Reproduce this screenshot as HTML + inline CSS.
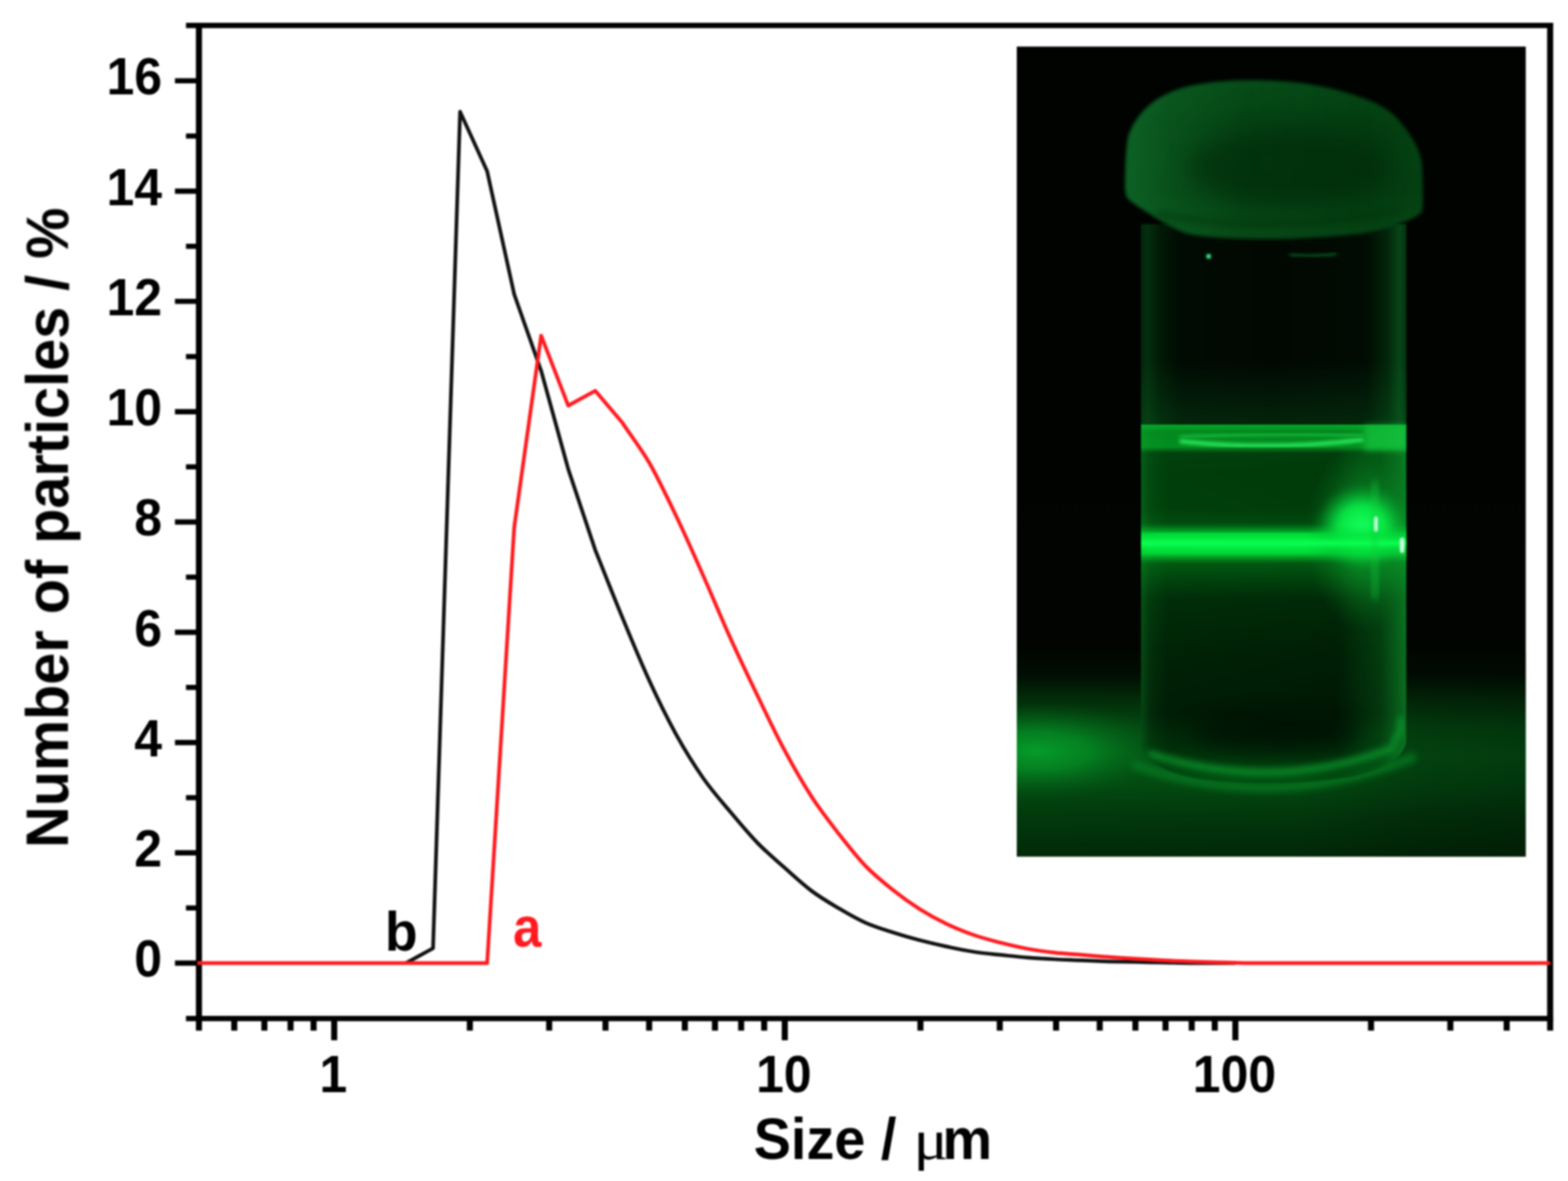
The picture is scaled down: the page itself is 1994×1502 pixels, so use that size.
<!DOCTYPE html>
<html lang="en">
<head>
<meta charset="utf-8">
<title>Particle size distribution</title>
<style>
html,body{margin:0;padding:0;background:#fff;}
body{width:1994px;height:1502px;overflow:hidden;}
svg{display:block;}
text{font-family:"Liberation Sans",sans-serif;font-weight:bold;}
.tk{font-size:63.5px;fill:#000;}
.mu{font-family:"Liberation Serif","DejaVu Serif",serif;font-weight:normal;}
</style>
</head>
<body>
<svg width="1994" height="1502" viewBox="0 0 1994 1502">

<defs>
<filter id="soft" color-interpolation-filters="sRGB" filterUnits="userSpaceOnUse" x="0" y="0" width="1994" height="1502"><feGaussianBlur stdDeviation="1"/></filter>
<clipPath id="pc"><rect x="1293" y="59.2" width="647.3" height="1030.3"/></clipPath>
<clipPath id="vc"><path d="M1451 300V945Q1452 975 1520 990Q1620 1003 1720 988Q1787 972 1788.5 940V300Z"/></clipPath>
<filter id="b1" color-interpolation-filters="sRGB" x="-20%" y="-20%" width="140%" height="140%"><feGaussianBlur stdDeviation="1.2"/></filter>
<filter id="b2" color-interpolation-filters="sRGB" x="-20%" y="-20%" width="140%" height="140%"><feGaussianBlur stdDeviation="2.2"/></filter>
<filter id="b4" color-interpolation-filters="sRGB" x="-30%" y="-30%" width="160%" height="160%"><feGaussianBlur stdDeviation="4"/></filter>
<filter id="b8" color-interpolation-filters="sRGB" x="-50%" y="-50%" width="200%" height="200%"><feGaussianBlur stdDeviation="8"/></filter>
<filter id="b14" color-interpolation-filters="sRGB" x="-50%" y="-50%" width="200%" height="200%"><feGaussianBlur stdDeviation="14"/></filter>
<linearGradient id="bgV" gradientUnits="userSpaceOnUse" x1="0" y1="59.5" x2="0" y2="1089.5">
<stop offset="0" stop-color="#010301"/>
<stop offset="0.74" stop-color="#010401"/>
<stop offset="0.775" stop-color="#010e03"/>
<stop offset="0.805" stop-color="#022c09"/>
<stop offset="0.84" stop-color="#034a10"/>
<stop offset="0.875" stop-color="#045614"/>
<stop offset="0.91" stop-color="#034c11"/>
<stop offset="0.95" stop-color="#02390c"/>
<stop offset="1" stop-color="#012a08"/>
</linearGradient>
<linearGradient id="floorD" gradientUnits="userSpaceOnUse" x1="1293" y1="0" x2="1940" y2="0">
<stop offset="0" stop-color="#010401" stop-opacity="0"/>
<stop offset="0.55" stop-color="#010401" stop-opacity="0.05"/>
<stop offset="0.8" stop-color="#010401" stop-opacity="0.25"/>
<stop offset="1" stop-color="#010401" stop-opacity="0.32"/>
</linearGradient>
<radialGradient id="floorL" cx="0.5" cy="0.5" r="0.5">
<stop offset="0" stop-color="#069c2a" stop-opacity="1"/>
<stop offset="0.4" stop-color="#058a24" stop-opacity="0.8"/>
<stop offset="0.75" stop-color="#046c1c" stop-opacity="0.35"/>
<stop offset="1" stop-color="#045614" stop-opacity="0"/>
</radialGradient>
<linearGradient id="capG" gradientUnits="userSpaceOnUse" x1="0" y1="100" x2="0" y2="305">
<stop offset="0" stop-color="#064816"/>
<stop offset="0.3" stop-color="#043c10"/>
<stop offset="0.7" stop-color="#043a0f"/>
<stop offset="1" stop-color="#064414"/>
</linearGradient>
<linearGradient id="capH" gradientUnits="userSpaceOnUse" x1="1431" y1="0" x2="1809" y2="0">
<stop offset="0" stop-color="#168a3c" stop-opacity="0.5"/>
<stop offset="0.15" stop-color="#168a3c" stop-opacity="0.28"/>
<stop offset="0.4" stop-color="#168a3c" stop-opacity="0.08"/>
<stop offset="0.8" stop-color="#168a3c" stop-opacity="0"/>
<stop offset="1" stop-color="#168a3c" stop-opacity="0.08"/>
</linearGradient>
<linearGradient id="bodyH" gradientUnits="userSpaceOnUse" x1="1451" y1="0" x2="1788.5" y2="0">
<stop offset="0" stop-color="#03260b"/>
<stop offset="0.025" stop-color="#042e0f"/>
<stop offset="0.07" stop-color="#021a07"/>
<stop offset="0.15" stop-color="#010b03"/>
<stop offset="0.5" stop-color="#010802"/>
<stop offset="0.85" stop-color="#010c03"/>
<stop offset="0.93" stop-color="#03260b"/>
<stop offset="0.975" stop-color="#064618"/>
<stop offset="1" stop-color="#04300f"/>
</linearGradient>
<linearGradient id="bodyV" gradientUnits="userSpaceOnUse" x1="0" y1="460" x2="0" y2="541">
<stop offset="0" stop-color="#0a7a24" stop-opacity="0"/>
<stop offset="1" stop-color="#0a7a24" stop-opacity="0.25"/>
</linearGradient>
<linearGradient id="liqV" gradientUnits="userSpaceOnUse" x1="0" y1="540" x2="0" y2="1000">
<stop offset="0" stop-color="#05aa28"/>
<stop offset="0.02" stop-color="#03871e"/>
<stop offset="0.062" stop-color="#038c20"/>
<stop offset="0.078" stop-color="#003e0b"/>
<stop offset="0.13" stop-color="#003a0a"/>
<stop offset="0.235" stop-color="#003c0a"/>
<stop offset="0.27" stop-color="#00480d"/>
<stop offset="0.295" stop-color="#007819"/>
<stop offset="0.302" stop-color="#00dc37"/>
<stop offset="0.33" stop-color="#0aff50"/>
<stop offset="0.354" stop-color="#00dc37"/>
<stop offset="0.366" stop-color="#008c1e"/>
<stop offset="0.385" stop-color="#005510"/>
<stop offset="0.435" stop-color="#003e0b"/>
<stop offset="0.48" stop-color="#002a07"/>
<stop offset="0.63" stop-color="#001e05"/>
<stop offset="0.8" stop-color="#001804"/>
<stop offset="0.9" stop-color="#002d09"/>
<stop offset="1" stop-color="#005512"/>
</linearGradient>
<linearGradient id="liqH" gradientUnits="userSpaceOnUse" x1="1451" y1="0" x2="1788.5" y2="0">
<stop offset="0" stop-color="#10b034" stop-opacity="0.3"/>
<stop offset="0.035" stop-color="#10b034" stop-opacity="0.12"/>
<stop offset="0.1" stop-color="#10b034" stop-opacity="0.03"/>
<stop offset="0.74" stop-color="#10b034" stop-opacity="0"/>
<stop offset="0.9" stop-color="#10b034" stop-opacity="0.2"/>
<stop offset="1" stop-color="#14c03c" stop-opacity="0.5"/>
</linearGradient>
<linearGradient id="beamG" gradientUnits="userSpaceOnUse" x1="0" y1="668" x2="0" y2="714">
<stop offset="0" stop-color="#00dc37" stop-opacity="0"/>
<stop offset="0.27" stop-color="#00dc37" stop-opacity="0.55"/>
<stop offset="0.5" stop-color="#0aff50" stop-opacity="1"/>
<stop offset="0.7" stop-color="#00dc37" stop-opacity="0.55"/>
<stop offset="1" stop-color="#00dc37" stop-opacity="0"/>
</linearGradient>
<radialGradient id="blob" cx="0.5" cy="0.5" r="0.5">
<stop offset="0" stop-color="#14ff5c" stop-opacity="1"/>
<stop offset="0.5" stop-color="#08f048" stop-opacity="0.9"/>
<stop offset="1" stop-color="#04b030" stop-opacity="0"/>
</radialGradient>
<radialGradient id="halo" cx="0.5" cy="0.5" r="0.5">
<stop offset="0" stop-color="#10c038" stop-opacity="0.75"/>
<stop offset="0.6" stop-color="#0c9a2c" stop-opacity="0.35"/>
<stop offset="1" stop-color="#0a8024" stop-opacity="0"/>
</radialGradient>
</defs>
<g id="photoSoft" filter="url(#soft)">
<g id="photo" clip-path="url(#pc)">
<rect x="1293" y="59" width="648" height="1031" fill="url(#bgV)"/>
<rect x="1293" y="830" width="648" height="260" fill="url(#floorD)"/>
<ellipse cx="1318" cy="955" rx="175" ry="62" fill="url(#floorL)"/>
<g id="vial">
<rect x="1451" y="285" width="337.5" height="257" fill="url(#bodyH)"/>
<rect x="1451" y="460" width="337.5" height="81" fill="url(#bodyV)"/>
<path d="M1440 972Q1620 1036 1800 962" fill="none" stroke="#067a22" stroke-width="11" opacity="0.85" filter="url(#b4)"/>
<g clip-path="url(#vc)">
<rect x="1451" y="540" width="337.5" height="460" fill="url(#liqV)"/>
<rect x="1451" y="540" width="337.5" height="460" fill="url(#liqH)"/>
<ellipse cx="1735" cy="680" rx="75" ry="120" fill="url(#halo)"/>
<ellipse cx="1620" cy="932" rx="105" ry="24" fill="#010a03" opacity="0.6" filter="url(#b14)"/>
<path d="M1460 958Q1620 1010 1775 950" fill="none" stroke="#0c9a2e" stroke-width="7" filter="url(#b4)"/>
<path d="M1780 912Q1786 928 1770 946" fill="none" stroke="#10b83c" stroke-width="5" opacity="0.8" filter="url(#b4)"/>
<path d="M1500 561Q1616 574 1734 559" fill="none" stroke="#2cf060" stroke-width="5" filter="url(#b2)"/>
<path d="M1500 556Q1616 549 1734 554" fill="none" stroke="#1ccc48" stroke-width="3" filter="url(#b2)"/>
<rect x="1735" y="541" width="54" height="32" fill="#18d044" opacity="0.6" filter="url(#b4)"/>
<ellipse cx="1732" cy="670" rx="60" ry="54" fill="url(#blob)" filter="url(#b4)"/>
<rect x="1451" y="664" width="338" height="56" fill="url(#beamG)"/>
<rect x="1745" y="612" width="7" height="150" fill="#14d040" opacity="0.5" filter="url(#b4)"/>
<rect x="1747.5" y="657" width="4.5" height="19" rx="2" fill="#d8fff0" filter="url(#b1)"/>
<rect x="1780.5" y="684" width="5" height="19" rx="2" fill="#e8fff8" filter="url(#b1)"/>
</g>
</g>
<g id="cap">
<path id="capshape" d="M1587.6 102C1550 102 1510 108 1488.3 117.5C1462 129 1444 148 1435.3 172.7C1432 185 1431.5 215 1431 234.5C1431 244 1432 250 1436 254C1446 262 1462 272 1472.8 278.6C1490 289 1500 294 1510.3 297.3C1535 303 1590 304.5 1620.7 304C1660 303.5 1700 301 1731 297.3C1750 294.5 1765 290 1775 286.3C1790 281.5 1802 276 1808.2 269.8C1810 262 1809.5 245 1809.3 234.5C1809 220 1809 210 1807 201.4C1804 186 1790 165 1775 148.4C1762 137 1750 130 1731 124C1710 116 1680 108 1642.7 104.3C1625 102.5 1605 102 1587.6 102Z" fill="url(#capG)" filter="url(#b2)"/>
<path d="M1587.6 102C1550 102 1510 108 1488.3 117.5C1462 129 1444 148 1435.3 172.7C1432 185 1431.5 215 1431 234.5C1431 244 1432 250 1436 254C1446 262 1462 272 1472.8 278.6C1490 289 1500 294 1510.3 297.3C1535 303 1590 304.5 1620.7 304C1660 303.5 1700 301 1731 297.3C1750 294.5 1765 290 1775 286.3C1790 281.5 1802 276 1808.2 269.8C1810 262 1809.5 245 1809.3 234.5C1809 220 1809 210 1807 201.4C1804 186 1790 165 1775 148.4C1762 137 1750 130 1731 124C1710 116 1680 108 1642.7 104.3C1625 102.5 1605 102 1587.6 102Z" fill="url(#capH)" filter="url(#b2)"/>
<ellipse cx="1640" cy="212" rx="130" ry="46" fill="#012808" opacity="0.55" filter="url(#b14)"/>
<path d="M1470 272Q1620 300 1780 268" fill="none" stroke="#03300c" stroke-width="5" opacity="0.7" filter="url(#b4)"/>
<circle cx="1537" cy="326" r="3.2" fill="#30e080" filter="url(#b1)"/>
<path d="M1640 324Q1680 328 1700 322" fill="none" stroke="#0a6a24" stroke-width="3" filter="url(#b2)"/>
</g>
</g>
</g>

<g id="chart" filter="url(#soft)">
<path d="M236.5 32.4H1975.1M236.5 1295.4H1975.1M222.5 1224.9H253.0M236.5 1154.8H253.0M222.5 1084.6H253.0M236.5 1014.5H253.0M222.5 944.4H253.0M236.5 874.3H253.0M222.5 804.1H253.0M236.5 734.0H253.0M222.5 663.9H253.0M236.5 593.7H253.0M222.5 523.6H253.0M236.5 453.5H253.0M222.5 383.3H253.0M236.5 313.2H253.0M222.5 243.1H253.0M236.5 173.0H253.0M222.5 102.8H253.0" stroke="#000" stroke-width="6.6" fill="none"/>
<path d="M253.0 29.1V1310.8M1971.3 29.1V1310.8M297.9 1295.4V1310.8M336.2 1295.4V1310.8M369.5 1295.4V1310.8M398.8 1295.4V1310.8M425.0 1295.4V1323.0M597.5 1295.4V1310.8M698.4 1295.4V1310.8M770.0 1295.4V1310.8M825.5 1295.4V1310.8M870.9 1295.4V1310.8M909.2 1295.4V1310.8M942.5 1295.4V1310.8M971.8 1295.4V1310.8M998.0 1295.4V1323.0M1170.5 1295.4V1310.8M1271.4 1295.4V1310.8M1343.0 1295.4V1310.8M1398.5 1295.4V1310.8M1443.9 1295.4V1310.8M1482.2 1295.4V1310.8M1515.5 1295.4V1310.8M1544.8 1295.4V1310.8M1571.0 1295.4V1323.0M1743.5 1295.4V1310.8M1844.4 1295.4V1310.8M1916.0 1295.4V1310.8" stroke="#000" stroke-width="7.7" fill="none"/>
<text class="tk" transform="translate(206 1242.3) scale(1 1.040)" text-anchor="end">0</text>
<text class="tk" transform="translate(206 1102.0) scale(1 1.040)" text-anchor="end">2</text>
<text class="tk" transform="translate(206 961.8) scale(1 1.040)" text-anchor="end">4</text>
<text class="tk" transform="translate(206 821.5) scale(1 1.040)" text-anchor="end">6</text>
<text class="tk" transform="translate(206 681.3) scale(1 1.040)" text-anchor="end">8</text>
<text class="tk" transform="translate(206 541.0) scale(1 1.040)" text-anchor="end">10</text>
<text class="tk" transform="translate(206 400.7) scale(1 1.040)" text-anchor="end">12</text>
<text class="tk" transform="translate(206 260.5) scale(1 1.040)" text-anchor="end">14</text>
<text class="tk" transform="translate(206 120.2) scale(1 1.040)" text-anchor="end">16</text>
<text class="tk" transform="translate(423.8 1388.6) scale(1 1.040)" text-anchor="middle">1</text>
<text class="tk" transform="translate(996.8 1388.6) scale(1 1.040)" text-anchor="middle">10</text>
<text class="tk" transform="translate(1569.8 1388.6) scale(1 1.040)" text-anchor="middle">100</text>
<g font-size="71"><text transform="translate(958.5 1474) scale(1 1.035)">Size /</text><text class="mu" font-size="72" transform="translate(1161.5 1473.5) scale(1.15 1)">μ</text><text transform="translate(1198.6 1474) scale(1 1.035)">m</text></g>
<text transform="translate(86.6 1078.4) rotate(-90) scale(1 1.033)" font-size="73.3">Number of particles / %</text>
<path d="M516.3 1224.9L550.7 1206.0L585.1 142.1L619.5 217.8L653.9 374.2L688.2 471.7L722.6 596.5L757.0 699.6C768.5 728.1 779.9 757.5 791.4 785.2C802.8 812.9 814.3 840.9 825.8 865.8C837.2 890.7 848.7 913.9 860.1 934.6C871.6 955.3 883.1 973.6 894.5 990.0C906.0 1006.3 917.4 1019.1 928.9 1032.7C940.4 1046.4 951.8 1060.2 963.3 1072.0C974.7 1083.8 986.2 1093.4 997.7 1103.6C1009.1 1113.7 1020.6 1124.4 1032.0 1133.0C1043.5 1141.6 1055.0 1148.3 1066.4 1155.1C1077.9 1161.9 1089.3 1168.6 1100.8 1173.7C1112.3 1178.8 1123.7 1182.2 1135.2 1185.8C1146.6 1189.5 1158.1 1192.8 1169.6 1195.8C1181.0 1198.8 1192.5 1201.4 1203.9 1203.9C1215.4 1206.3 1226.9 1208.8 1238.3 1210.5C1249.8 1212.3 1261.2 1213.2 1272.7 1214.4C1284.2 1215.6 1295.6 1217.0 1307.1 1217.9C1318.5 1218.8 1330.0 1219.4 1341.5 1220.0C1352.9 1220.6 1364.4 1220.9 1375.8 1221.4C1387.3 1221.9 1398.8 1222.4 1410.2 1222.8C1421.7 1223.1 1433.1 1223.3 1444.6 1223.5C1456.1 1223.7 1467.5 1224.0 1479.0 1224.2C1490.4 1224.4 1501.9 1224.8 1513.4 1224.9C1524.8 1225.0 1542.0 1224.9 1547.7 1224.9L1571.0 1224.9" fill="none" stroke="#111" stroke-width="4.7" stroke-linejoin="round"/>
<path d="M251.0 1224.9L619.5 1224.9L653.9 670.9L688.2 426.8L722.6 515.9L757.0 497.0L791.4 537.6C802.8 554.7 814.3 569.0 825.8 588.8C837.2 608.7 848.7 632.9 860.1 656.8C871.6 680.8 883.1 706.8 894.5 732.6C906.0 758.4 917.4 786.5 928.9 811.8C940.4 837.2 951.8 861.0 963.3 884.8C974.7 908.5 986.2 932.8 997.7 954.2C1009.1 975.6 1020.6 995.5 1032.0 1013.1C1043.5 1030.8 1055.0 1045.4 1066.4 1060.1C1077.9 1074.8 1089.3 1089.5 1100.8 1101.5C1112.3 1113.4 1123.7 1122.5 1135.2 1131.6C1146.6 1140.7 1158.1 1148.9 1169.6 1156.2C1181.0 1163.4 1192.5 1169.6 1203.9 1175.1C1215.4 1180.6 1226.9 1185.2 1238.3 1189.1C1249.8 1193.1 1261.2 1196.0 1272.7 1199.0C1284.2 1201.9 1295.6 1204.6 1307.1 1206.7C1318.5 1208.8 1330.0 1210.3 1341.5 1211.6C1352.9 1212.9 1364.4 1213.4 1375.8 1214.4C1387.3 1215.3 1398.8 1216.4 1410.2 1217.2C1421.7 1218.0 1433.1 1218.6 1444.6 1219.3C1456.1 1220.0 1467.5 1220.8 1479.0 1221.4C1490.4 1222.0 1501.9 1222.4 1513.4 1222.8C1524.8 1223.2 1536.3 1223.5 1547.7 1223.8C1559.2 1224.2 1576.4 1224.7 1582.1 1224.9L1971.3 1224.9" fill="none" stroke="#ff1a1f" stroke-width="4.7" stroke-linejoin="round"/>
<text transform="translate(489.5 1209.2) scale(1 1.04)" font-size="68">b</text>
<text transform="translate(652.5 1203.6) scale(0.95 1.07)" font-size="68" fill="#ff1a1f">a</text>
</g>
</svg>
</body>
</html>
